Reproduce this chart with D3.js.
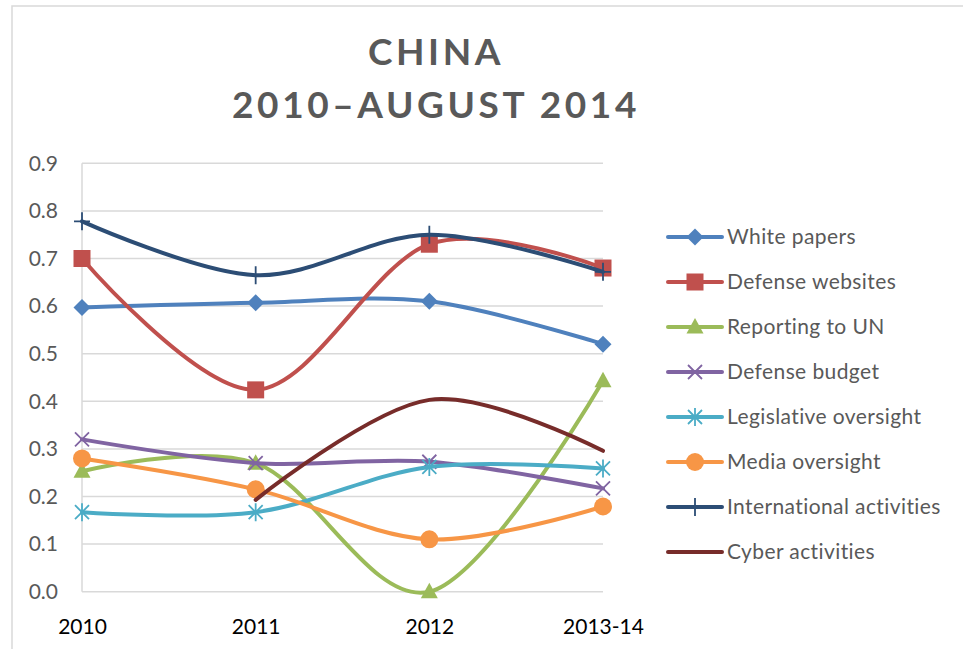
<!DOCTYPE html>
<html lang="en">
<head>
<meta charset="utf-8">
<title>China 2010-August 2014</title>
<script src="https://d3js.org/d3.v7.min.js"></script>
<style>
  body { margin: 0; background: #fff; }
  svg text { font-family: Lato, "Open Sans", sans-serif; }
</style>
</head>
<body>
<script>
// chart data
var years = ["2010", "2011", "2012", "2013-14"];
var seriesNames = ["White papers", "Defense websites", "Reporting to UN", "Defense budget",
                   "Legislative oversight", "Media oversight", "International activities", "Cyber activities"];
var whitePapers = [0.597, 0.607, 0.61, 0.52];
var defenseWebsites = [0.70, 0.424, 0.73, 0.68];
var reportingUN = [0.253, 0.27, 0.00, 0.443];
var defenseBudget = [0.32, 0.27, 0.273, 0.217];
var legislative = [0.167, 0.167, 0.262, 0.259];
var media = [0.28, 0.215, 0.11, 0.179];
var international = [0.778, 0.665, 0.75, 0.672];
var cyber = [null, 0.193, 0.403, 0.296];
var yTicks = [0, 0.1, 0.2, 0.3, 0.4, 0.5, 0.6, 0.7, 0.8, 0.9];

var colors = ["#4f81bd", "#c0504d", "#9bbb59", "#8064a2", "#4bacc6", "#f79646", "#2c4d75", "#772c2a"];
var markers = ["diamond", "square", "triangle", "x", "star", "circle", "plus", "none"];

var allValues = [whitePapers, defenseWebsites, reportingUN, defenseBudget, legislative, media, international, cyber];
var series = seriesNames.map(function(n, i) {
    return { name: n, values: allValues[i], color: colors[i], marker: markers[i] };
});

var width = 963, height = 649;
var svg = d3.select("body").append("svg")
    .attr("width", width)
    .attr("height", height);

// chart border
svg.append("rect")
    .attr("x", 12).attr("y", 6)
    .attr("width", 960).attr("height", 660)
    .attr("fill", "none")
    .attr("stroke", "#d9d9d9")
    .attr("stroke-width", 1.5);

// title
var title = svg.append("g").attr("fill", "#595959").attr("font-weight", "bold")
    .attr("text-anchor", "middle").style("letter-spacing", "3.6px");
title.append("text").attr("x", 436).attr("y", 65).attr("font-size", 37).text("CHINA");
title.append("text").attr("x", 436).attr("y", 118).attr("font-size", 37).text("2010\u2013AUGUST 2014");

var x = d3.scalePoint().domain(years).range([82, 603]);
var y = d3.scaleLinear().domain([0, 0.9]).range([591.7, 163.3]);

// gridlines
svg.append("g").selectAll("line")
    .data(yTicks)
    .enter().append("line")
    .attr("x1", 82).attr("x2", 603)
    .attr("y1", function(d) { return y(d); })
    .attr("y2", function(d) { return y(d); })
    .attr("stroke", "#d9d9d9")
    .attr("stroke-width", 1.5);

svg.append("line")
    .attr("x1", 82).attr("x2", 82)
    .attr("y1", y(0.9)).attr("y2", y(0))
    .attr("stroke", "#d9d9d9").attr("stroke-width", 1.5);

// y axis
var yAxis = svg.append("g")
    .attr("transform", "translate(82,0)")
    .call(d3.axisLeft(y).tickValues(yTicks).tickFormat(d3.format(".1f")).tickSize(0).tickPadding(24));
yAxis.select(".domain").remove();
yAxis.selectAll("text").attr("font-size", 21).attr("fill", "#595959")
    .style("font-family", "Lato, sans-serif");

// x axis
var xAxis = svg.append("g")
    .attr("transform", "translate(0," + y(0) + ")")
    .call(d3.axisBottom(x).tickSize(0).tickPadding(27));
xAxis.select(".domain").remove();
xAxis.selectAll("text").attr("font-size", 21).attr("fill", "#000")
    .style("font-family", "Lato, sans-serif");

function drawMarker(g, type, color) {
    if (type == "diamond") {
        g.append("path").attr("d", "M0,-8.5L8.5,0L0,8.5L-8.5,0Z").attr("fill", color);
    } else if (type == "square") {
        g.append("rect").attr("x", -8.5).attr("y", -8.5).attr("width", 17).attr("height", 17).attr("fill", color);
    } else if (type == "triangle") {
        g.append("path").attr("d", "M0,-9L8.5,6.5L-8.5,6.5Z").attr("fill", color);
    } else if (type == "circle") {
        g.append("circle").attr("r", 9).attr("fill", color);
    } else if (type == "x") {
        g.append("path").attr("d", "M-7,-7L7,7M-7,7L7,-7").attr("stroke", color).attr("stroke-width", 1.8).attr("fill", "none");
    } else if (type == "star") {
        g.append("path").attr("d", "M-7,-7L7,7M-7,7L7,-7M0,-9L0,9").attr("stroke", color).attr("stroke-width", 1.8).attr("fill", "none");
    } else if (type == "plus") {
        g.append("path").attr("d", "M0,-9L0,9M-8,0L8,0").attr("stroke", color).attr("stroke-width", 1.8).attr("fill", "none");
    }
}

var line = d3.line()
    .defined(function(d) { return d.v != null; })
    .x(function(d) { return x(d.year); })
    .y(function(d) { return y(d.v); })
    .curve(d3.curveCardinal.tension(0));

series.forEach(function(s) {
    var pts = years.map(function(yr, i) { return { year: yr, v: s.values[i] }; });
    svg.append("path")
        .datum(pts)
        .attr("d", line)
        .attr("fill", "none")
        .attr("stroke", s.color)
        .attr("stroke-width", 4)
        .attr("stroke-linecap", "round");
    pts.filter(function(d) { return d.v != null; }).forEach(function(d) {
        var g = svg.append("g").attr("transform", "translate(" + x(d.year) + "," + y(d.v) + ")");
        drawMarker(g, s.marker, s.color);
    });
});

// legend
var legend = svg.append("g");
series.forEach(function(s, i) {
    var ly = 237 + i * 45;
    legend.append("line")
        .attr("x1", 668).attr("x2", 722)
        .attr("y1", ly).attr("y2", ly)
        .attr("stroke", s.color).attr("stroke-width", 4).attr("stroke-linecap", "round");
    var g = legend.append("g").attr("transform", "translate(695," + ly + ")");
    drawMarker(g, s.marker, s.color);
    legend.append("text")
        .attr("x", 727).attr("y", ly + 7)
        .attr("font-size", 21)
        .attr("fill", "#595959")
        .style("letter-spacing", "0.4px")
        .text(s.name);
});
</script>
</body>
</html>
